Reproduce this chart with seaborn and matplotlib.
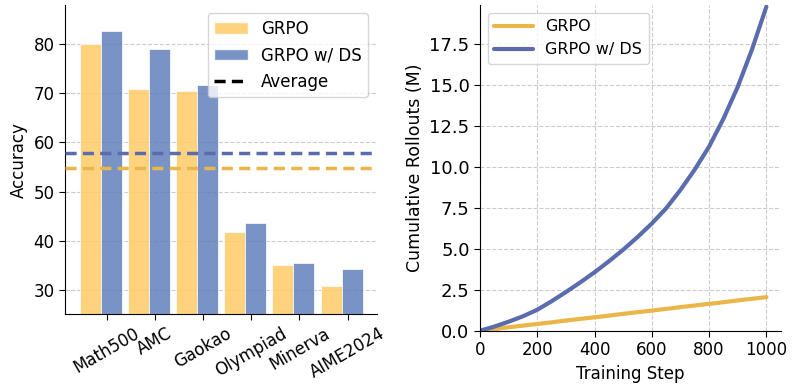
import numpy as np
import pandas as pd
import matplotlib
matplotlib.use('Agg')
import matplotlib.pyplot as plt
from matplotlib.patches import Patch
from matplotlib.lines import Line2D
import seaborn as sns

# accuracy per benchmark (left panel)
benchmarks = ['Math500', 'AMC', 'Gaokao', 'Olympiad', 'Minerva', 'AIME2024']
acc_grpo = [80.1, 70.8, 70.4, 41.8, 35.1, 30.8]
acc_grpo_ds = [82.8, 79.1, 71.7, 43.5, 35.4, 34.2]

# cumulative rollouts in millions (right panel)
steps = [0, 50, 100, 150, 200, 250, 300, 350, 400, 450, 500,
         550, 600, 650, 700, 750, 800, 850, 900, 950, 1000]
rollouts_grpo = [0.00, 0.10, 0.21, 0.31, 0.41, 0.51, 0.62, 0.72, 0.82, 0.92, 1.03,
                 1.13, 1.23, 1.33, 1.44, 1.54, 1.64, 1.74, 1.85, 1.95, 2.05]
rollouts_grpo_ds = [0.00, 0.25, 0.55, 0.88, 1.28, 1.80, 2.36, 2.95, 3.57, 4.24, 4.95,
                    5.72, 6.55, 7.48, 8.60, 9.85, 11.25, 12.95, 14.90, 17.20, 19.80]

methods = ['GRPO', 'GRPO w/ DS']
bar_colors = {'GRPO': '#FFCC68', 'GRPO w/ DS': '#6280BC'}
line_colors = {'GRPO': '#EAB64A', 'GRPO w/ DS': '#5A6CAC'}
bar_alpha = 0.85

acc_df = pd.DataFrame({
    'Benchmark': benchmarks * 2,
    'Accuracy': acc_grpo + acc_grpo_ds,
    'Method': [methods[0]] * len(benchmarks) + [methods[1]] * len(benchmarks),
})
roll_df = pd.DataFrame({
    'Training Step': steps * 2,
    'Rollouts': rollouts_grpo + rollouts_grpo_ds,
    'Method': [methods[0]] * len(steps) + [methods[1]] * len(steps),
})

sns.set_style('ticks')
plt.rcParams.update({
    'font.family': ['DejaVu Sans'],
    'text.color': 'black',
    'axes.labelcolor': 'black',
    'axes.edgecolor': 'black',
    'xtick.color': 'black',
    'ytick.color': 'black',
    'xtick.labelsize': 12,
    'ytick.labelsize': 12,
    'axes.labelsize': 12,
    'xtick.major.size': 4,
    'ytick.major.size': 4,
})

fig = plt.figure(figsize=(7.96, 3.88), dpi=100)
ax1 = fig.add_axes([0.0817, 0.190, 0.3916, 0.797])
ax2 = fig.add_axes([0.603, 0.1477, 0.3778, 0.8394])

grid_kw = dict(linestyle='--', color='#cccccc', linewidth=0.8)
avg_dash = (3.2, 1.8)

# ---- left: accuracy bars
sns.barplot(data=acc_df, x='Benchmark', y='Accuracy', hue='Method',
            palette=bar_colors, width=0.87, saturation=1, alpha=bar_alpha,
            edgecolor='white', linewidth=0.6, legend=False, ax=ax1)
ax1.axhline(np.mean(acc_grpo), color=line_colors['GRPO'], ls='--',
            dashes=avg_dash, lw=2.5, zorder=3)
ax1.axhline(np.mean(acc_grpo_ds), color=line_colors['GRPO w/ DS'], ls='--',
            dashes=avg_dash, lw=2.5, zorder=3)
ax1.set_xticks(np.arange(len(benchmarks)) + 0.125)
ax1.set_xticklabels(benchmarks, rotation=30)
ax1.set_xlim(-0.74, 5.73)
ax1.set_ylim(25, 88)
ax1.set_xlabel('')
ax1.set_ylabel('Accuracy')
ax1.yaxis.grid(True, **grid_kw)
ax1.set_axisbelow(True)

handles = [Patch(facecolor=bar_colors[m], alpha=bar_alpha, edgecolor='white') for m in methods]
handles.append(Line2D([0], [0], color='black', ls='--', dashes=avg_dash, lw=2.5))
ax1.legend(handles, methods + ['Average'], loc='upper right', fontsize=12)

# ---- right: cumulative rollouts
sns.lineplot(data=roll_df, x='Training Step', y='Rollouts', hue='Method',
             palette=line_colors, linewidth=3, ax=ax2)
ax2.set_xlim(0, 1050)
ax2.set_ylim(0, 19.9)
ax2.set_yticks(np.arange(0, 19, 2.5))
ax2.set_xticks(np.arange(0, 1001, 200))
ax2.tick_params(axis='y', labelsize=13)
ax2.set_xlabel('Training Step')
ax2.set_ylabel('Cumulative Rollouts (M)', fontsize=12.5)
ax2.grid(True, **grid_kw)
ax2.set_axisbelow(True)
ax2.legend(title=None, loc='upper left', fontsize=11.5, handlelength=2.4)

sns.despine(fig=fig)
fig.savefig('out.png', dpi=100)
